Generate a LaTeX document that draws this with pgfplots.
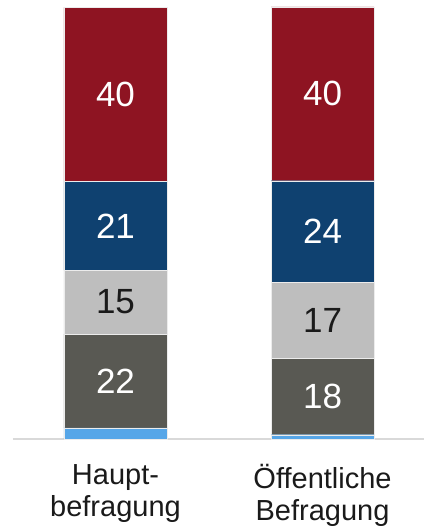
\documentclass[border=0pt]{standalone}
\usepackage{pgfplots}
\pgfplotsset{compat=1.18}
\usepackage{fontspec}
\setmainfont{Liberation Sans}
\definecolor{cRed}{HTML}{8E1422}
\definecolor{cBlue}{HTML}{0F4170}
\definecolor{cLight}{HTML}{BEBEBE}
\definecolor{cDark}{HTML}{595953}
\definecolor{cSky}{HTML}{56A6E8}
\definecolor{cAxis}{HTML}{D9D9D9}
\definecolor{cText}{HTML}{1A1A1A}
\begin{document}
\begin{tikzpicture}
\useasboundingbox (0,0) rectangle (424pt,527pt);
\begin{axis}[
  at={(13pt,88pt)}, anchor=south west,
  scale only axis, width=411pt, height=439pt,
  xmin=-0.495, xmax=1.49, ymin=0, ymax=101.62,
  ybar stacked, bar width=103pt,
  axis x line*=bottom, axis y line=none,
  axis line style={-, cAxis, line width=1.5pt},
  xtick={0,1}, xticklabels={{Haupt-\\befragung},{Öffentliche\\Befragung}},
  xticklabel style={align=center, font=\fontsize{29}{32}\selectfont, text=cText, inner sep=0pt, yshift=-25pt},
  major tick length=0pt,
  ytick=\empty,
  clip=false,
  every axis plot/.append style={draw=white!85!gray, line width=0.25pt},
  lbl/.style={nodes near coords, point meta=explicit symbolic,
     every node near coord/.append style={anchor=center, inner sep=0pt,
        font=\fontsize{35}{40}\selectfont}},
]
\addplot[fill=cSky] coordinates {(0,2.6) (1,1.0)};
\addplot[fill=cDark, lbl, every node near coord/.append style={text=white}] coordinates {(0,21.7) [22] (1,17.7) [18]};
\addplot[fill=cLight, lbl, every node near coord/.append style={text=cText}] coordinates {(0,14.8) [15] (1,17.6) [17]};
\addplot[fill=cBlue, lbl, every node near coord/.append style={text=white}] coordinates {(0,20.5) [21] (1,23.5) [24]};
\addplot[fill=cRed, lbl, every node near coord/.append style={text=white}] coordinates {(0,40.3) [40] (1,40.2) [40]};
\end{axis}
\end{tikzpicture}
\end{document}
